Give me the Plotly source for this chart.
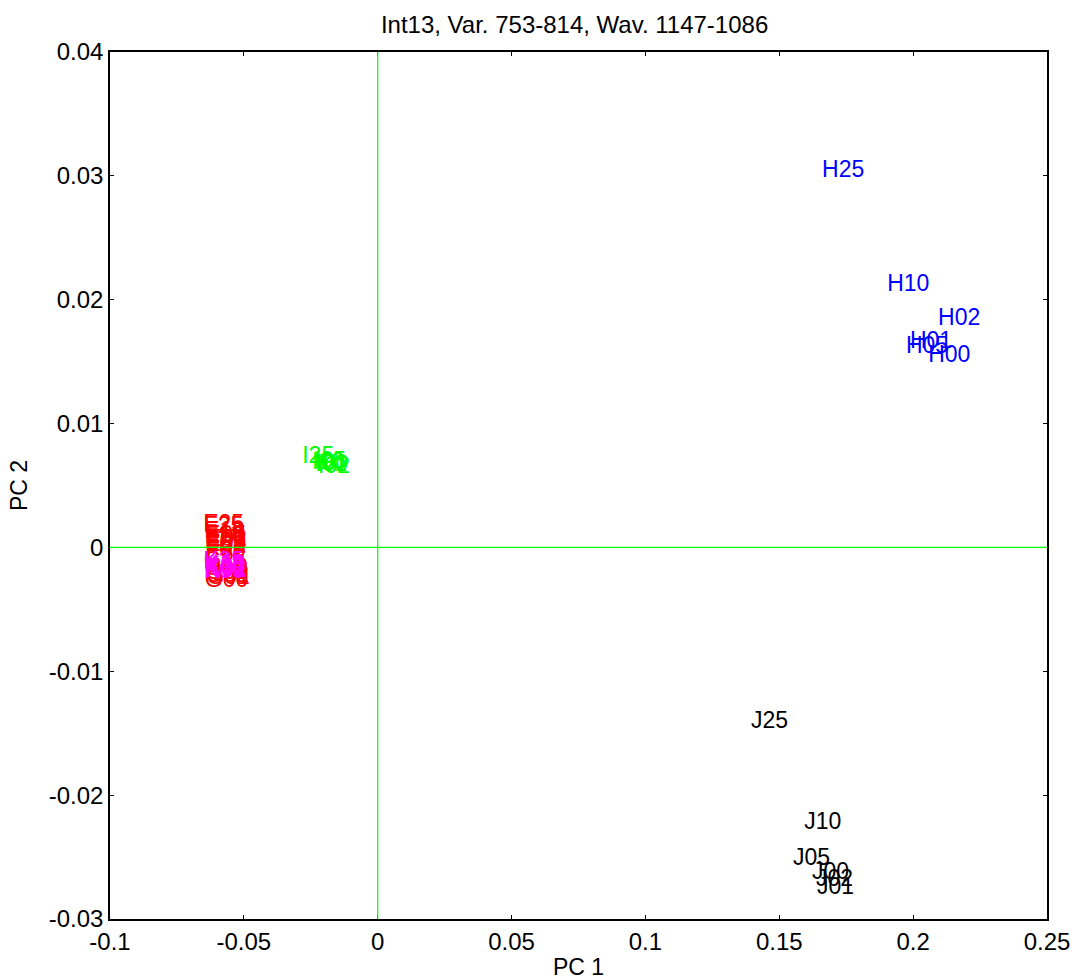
import plotly.graph_objects as go

# ---- data ----
suffixes = ["25", "10", "05", "02", "01", "00"]

e_labels = ["E" + s for s in suffixes]
e_x = [-0.0652, -0.0648, -0.0645, -0.0642, -0.0646, -0.0644]
e_y = [0.0018, 0.0012, 0.0009, 0.0006, 0.0004, 0.0002]

f_labels = ["F" + s for s in suffixes]
f_x = [-0.0650, -0.0646, -0.0643, -0.0641, -0.0645, -0.0642]
f_y = [0.0016, 0.0008, 0.0003, 0.0001, -0.0002, -0.0004]

g_labels = ["G" + s for s in suffixes]
g_x = [-0.0650, -0.0648, -0.0645, -0.0643, -0.0640, -0.0646]
g_y = [-0.0012, -0.0018, -0.0021, -0.0023, -0.0025, -0.0027]

k_labels = ["K" + s for s in suffixes]
k_x = [-0.0652, -0.0648, -0.0646, -0.0644, -0.0642, -0.0650]
k_y = [-0.0012, -0.0014, -0.0016, -0.0018, -0.0019, -0.0020]

i_labels = ["I" + s for s in suffixes]
i_x = [-0.0282, -0.0245, -0.0238, -0.0223, -0.0234, -0.0230]
i_y = [0.0073, 0.00681, 0.0069, 0.0065, 0.0066, 0.00665]

h_labels = ["H" + s for s in suffixes]
h_x = [0.1660, 0.1903, 0.1973, 0.2093, 0.1988, 0.2056]
h_y = [0.03039, 0.02119, 0.01618, 0.01844, 0.01658, 0.01545]

j_labels = ["J" + s for s in suffixes]
j_x = [0.1394, 0.1593, 0.1551, 0.1637, 0.1641, 0.1622]
j_y = [-0.01410, -0.02225, -0.02517, -0.02685, -0.02750, -0.02630]

x_ticks = [-0.1, -0.05, 0, 0.05, 0.1, 0.15, 0.2, 0.25]
x_tick_text = ["-0.1", "-0.05", "0", "0.05", "0.1", "0.15", "0.2", "0.25"]
y_ticks = [-0.03, -0.02, -0.01, 0, 0.01, 0.02, 0.03, 0.04]
y_tick_text = ["-0.03", "-0.02", "-0.01", "0", "0.01", "0.02", "0.03", "0.04"]

title_text = "Int13, Var. 753-814, Wav. 1147-1086"

FONT = "Liberation Sans, Arial, sans-serif"
LABEL_SIZE = 23

groups = [
    (g_labels, g_x, g_y, "#FF0000"),
    (e_labels, e_x, e_y, "#FF0000"),
    (f_labels, f_x, f_y, "#FF0000"),
    (k_labels, k_x, k_y, "#FF00FF"),
    (i_labels, i_x, i_y, "#00FF00"),
    (h_labels, h_x, h_y, "#0000FF"),
    (j_labels, j_x, j_y, "#000000"),
]

fig = go.Figure()
for labels, xs, ys, col in groups:
    fig.add_trace(go.Scatter(
        x=xs, y=ys, text=labels, mode="text",
        textposition="middle right",
        textfont=dict(family=FONT, size=LABEL_SIZE, color=col),
        hoverinfo="text", showlegend=False,
    ))

# zero lines
fig.add_shape(type="line", xref="x", yref="y domain", x0=0, x1=0, y0=0, y1=1,
              line=dict(color="#00FF00", width=1.2), layer="above")
fig.add_shape(type="line", xref="x domain", yref="y", x0=0, x1=1, y0=0, y1=0,
              line=dict(color="#00FF00", width=1.2), layer="above")

axis_common = dict(
    showgrid=False, zeroline=False, showline=True, linecolor="black",
    linewidth=1.5, mirror="all", ticks="inside", ticklen=4, tickwidth=1,
    tickcolor="black", tickfont=dict(family=FONT, size=24, color="black"),
    automargin=False,
)

fig.update_layout(
    width=1074, height=980,
    margin=dict(l=110, r=27, t=52, b=61),
    paper_bgcolor="white", plot_bgcolor="white",
    title=dict(text=title_text, x=0.535, xanchor="center", y=0.975, yanchor="middle",
               font=dict(family=FONT, size=24, color="black")),
    xaxis=dict(range=[-0.1, 0.25], tickvals=x_ticks, ticktext=x_tick_text,
               title=dict(text="PC 1", font=dict(family=FONT, size=23, color="black")),
               **axis_common),
    yaxis=dict(range=[-0.03, 0.04], tickvals=y_ticks, ticktext=y_tick_text,
               title=dict(text="PC 2", font=dict(family=FONT, size=23, color="black")),
               **axis_common),
)

fig.write_html("out.html")
